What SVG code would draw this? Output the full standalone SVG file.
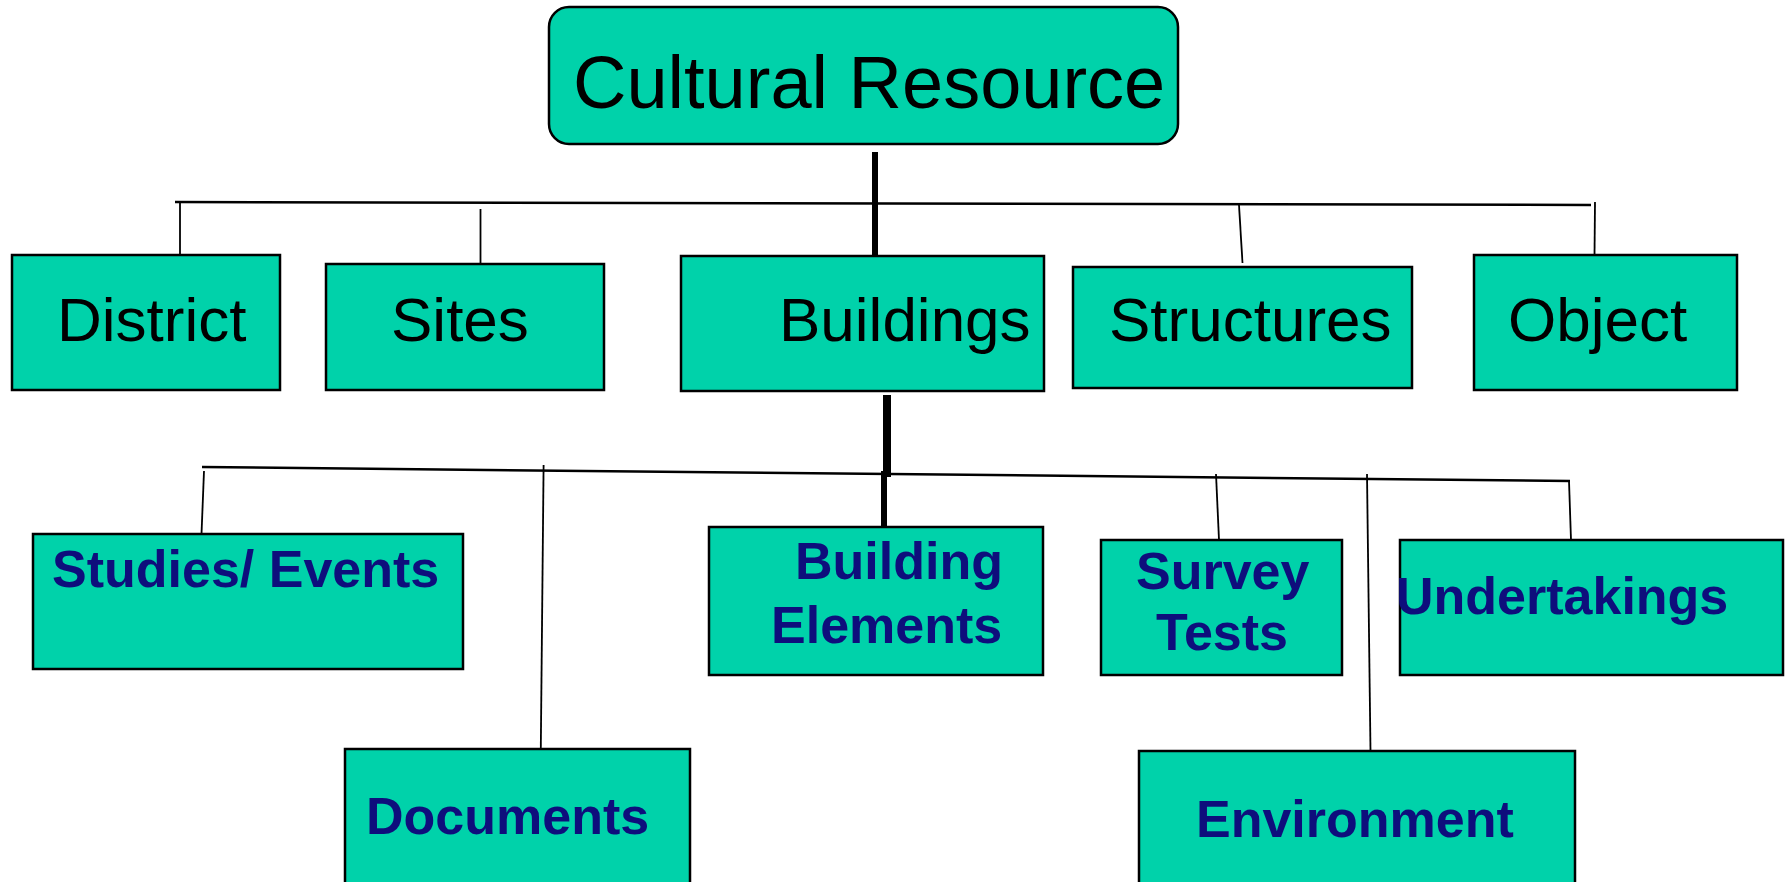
<svg xmlns="http://www.w3.org/2000/svg" width="1786" height="882" viewBox="0 0 1786 882">
<style>
.box{fill:#00D2AA;stroke:#000;stroke-width:2.5}
.t1{font-family:"Liberation Sans",Arial,sans-serif;fill:#000}
.t2{font-family:"Liberation Sans",Arial,sans-serif;font-weight:bold;font-size:52px;fill:#0E0E7C}
.ln{stroke:#000;fill:none}
</style>
<rect width="1786" height="882" fill="#fff"/>
<g id="connectors">
<line class="ln" x1="875" y1="152" x2="875" y2="258" stroke-width="6"/>
<line class="ln" x1="175" y1="202" x2="1591" y2="205" stroke-width="2.5"/>
<line class="ln" x1="180" y1="202" x2="180" y2="254" stroke-width="1.8"/>
<line class="ln" x1="480.5" y1="209" x2="480.5" y2="264" stroke-width="1.8"/>
<line class="ln" x1="1239" y1="205" x2="1242.5" y2="263" stroke-width="1.8"/>
<line class="ln" x1="1595" y1="202" x2="1594.5" y2="257" stroke-width="1.8"/>
<line class="ln" x1="887" y1="395" x2="887" y2="477" stroke-width="8"/>
<line class="ln" x1="884" y1="471" x2="884" y2="527" stroke-width="6"/>
<line class="ln" x1="202" y1="467" x2="1570" y2="481" stroke-width="2.5"/>
<line class="ln" x1="204" y1="471" x2="201.5" y2="534" stroke-width="1.8"/>
<line class="ln" x1="543.6" y1="465" x2="540.8" y2="748" stroke-width="1.8"/>
<line class="ln" x1="1216" y1="474" x2="1219" y2="540" stroke-width="1.8"/>
<line class="ln" x1="1367" y1="474" x2="1370.5" y2="751" stroke-width="1.8"/>
<line class="ln" x1="1569" y1="481" x2="1571" y2="540" stroke-width="1.8"/>
</g>
<g id="cultural-resource">
<rect class="box" x="549" y="7" width="629" height="137" rx="20" ry="20"/>
<text class="t1" x="573" y="108" font-size="74">Cultural Resource</text>
</g>
<g id="district">
<rect class="box" x="12" y="255" width="268" height="135"/>
<text class="t1" x="57" y="341" font-size="62">District</text>
</g>
<g id="sites">
<rect class="box" x="326" y="264" width="278" height="126"/>
<text class="t1" x="391" y="341" font-size="62">Sites</text>
</g>
<g id="buildings">
<rect class="box" x="681" y="256" width="363" height="135"/>
<text class="t1" x="779" y="341" font-size="62">Buildings</text>
</g>
<g id="structures">
<rect class="box" x="1073" y="267" width="339" height="121"/>
<text class="t1" x="1109" y="341" font-size="62">Structures</text>
</g>
<g id="object">
<rect class="box" x="1474" y="255" width="263" height="135"/>
<text class="t1" x="1508" y="341" font-size="62">Object</text>
</g>
<g id="studies-events">
<rect class="box" x="33" y="534" width="430" height="135"/>
<text class="t2" x="52" y="587">Studies/ Events</text>
</g>
<g id="building-elements">
<rect class="box" x="709" y="527" width="334" height="148"/>
<text class="t2" x="795" y="579">Building</text>
<text class="t2" x="771" y="643">Elements</text>
</g>
<g id="survey-tests">
<rect class="box" x="1101" y="540" width="241" height="135"/>
<text class="t2" x="1136" y="589">Survey</text>
<text class="t2" x="1156" y="650">Tests</text>
</g>
<g id="undertakings">
<rect class="box" x="1400" y="540" width="383" height="135"/>
<text class="t2" x="1396" y="614">Undertakings</text>
</g>
<g id="documents">
<rect class="box" x="345" y="749" width="345" height="150"/>
<text class="t2" x="366" y="834">Documents</text>
</g>
<g id="environment">
<rect class="box" x="1139" y="751" width="436" height="150"/>
<text class="t2" x="1196" y="837">Environment</text>
</g>
</svg>
